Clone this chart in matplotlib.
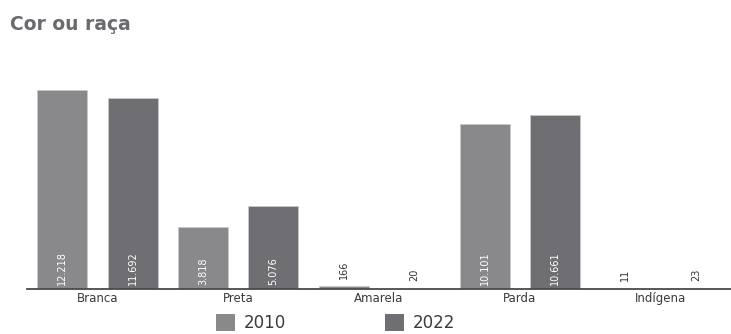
import numpy as np
import matplotlib.pyplot as plt
from matplotlib.patches import Patch

categorias = ['Branca', 'Preta', 'Amarela', 'Parda', 'Indígena']
anos = ['2010', '2022']
valores_2010 = [12218, 3818, 166, 10101, 11]
valores_2022 = [11692, 5076, 20, 10661, 23]

cor_2010 = '#89898c'
cor_2022 = '#6f6f73'
cor_texto = '#6a6a6f'

plt.rcParams['font.family'] = ['DejaVu Sans']

fig = plt.figure(figsize=(7.31, 3.34), dpi=100)
ax = fig.add_axes([0.037, 0.1347, 0.963, 0.686])

xx = np.arange(len(categorias))
largura = 0.355
desloc = 0.25

def rotulo(v):
    return f'{v:,}'.replace(',', '.')

for serie, cor, sinal in [(valores_2010, cor_2010, -1), (valores_2022, cor_2022, 1)]:
    pos = xx + sinal * desloc
    ax.bar(pos, serie, width=largura, color=cor, edgecolor='#c8c8ca', linewidth=0.6)
    for x, v in zip(pos, serie):
        if v > 1000:
            ax.text(x, 230, rotulo(v), rotation=90, ha='center', va='bottom',
                    color='white', fontsize=7)
        else:
            ax.text(x, v + 450, rotulo(v), rotation=90, ha='center', va='bottom',
                    color='#333335', fontsize=7)

ax.set_xlim(-0.5, 4.5)
ax.set_ylim(0, 14050)
for lado in ['top', 'right', 'left']:
    ax.spines[lado].set_visible(False)
ax.spines['bottom'].set_color('#4a4a4e')
ax.spines['bottom'].set_linewidth(1.3)
ax.set_yticks([])
ax.set_xticks(xx)
ax.set_xticklabels(categorias, fontsize=8.5, color='#3a3a3e')
ax.tick_params(axis='x', length=0, pad=2)

fig.text(0.014, 0.91, 'Cor ou raça', fontsize=13.5, fontweight='bold', color=cor_texto)

handles = [Patch(facecolor=cor_2010, edgecolor='none'), Patch(facecolor=cor_2022, edgecolor='none')]
fig.legend(handles, anos, loc='center', bbox_to_anchor=(0.459, 0.033), ncol=2, frameon=False,
           fontsize=12, handlelength=1.15, handleheight=1.15, columnspacing=5.9,
           handletextpad=0.55, labelcolor='#3a3a3e')

fig.savefig('out.png', dpi=100)
